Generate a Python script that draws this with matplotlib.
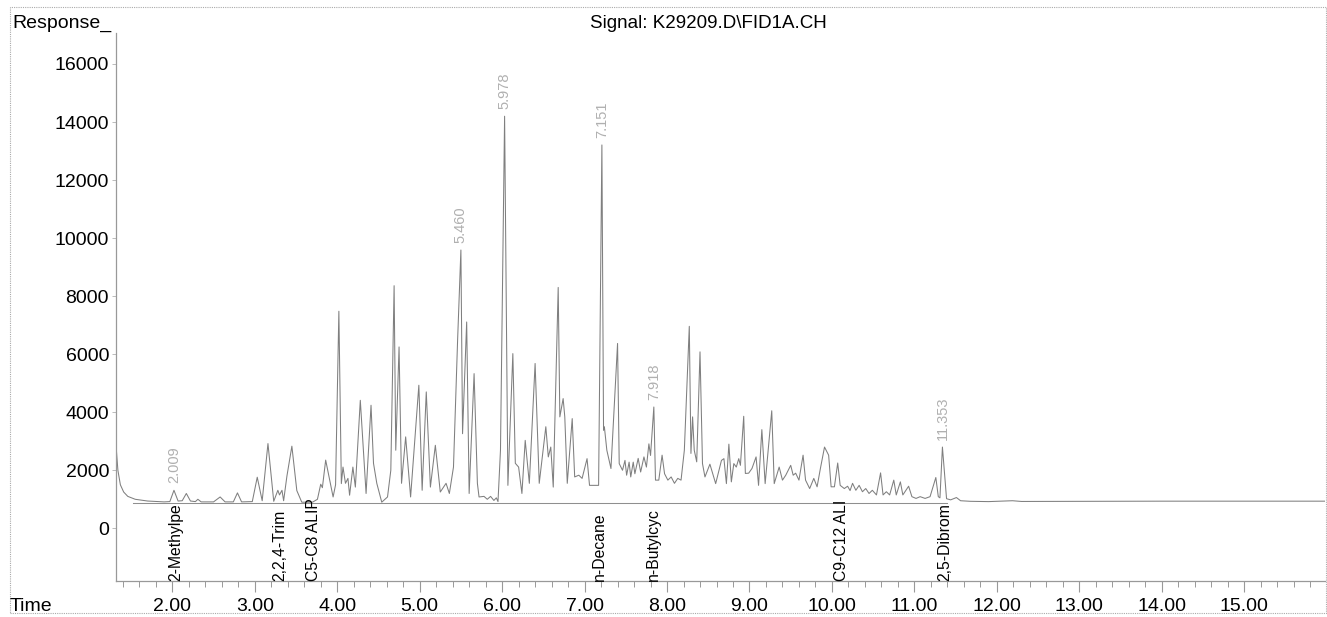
import matplotlib
matplotlib.use("Agg")
import matplotlib.pyplot as plt
from matplotlib.ticker import MultipleLocator, FixedLocator
from matplotlib.patches import Rectangle
import numpy as np

plt.rcParams['font.family'] = ['Liberation Sans', 'DejaVu Sans']

# ---- data (time in min, response) ----
times = [1.32, 1.34, 1.37, 1.41, 1.46, 1.55, 1.70, 1.90, 1.97, 2.02, 2.07, 2.12, 2.17, 2.22, 2.28, 2.31,
         2.35, 2.50, 2.58, 2.64, 2.74, 2.79, 2.84, 2.97, 3.03, 3.09, 3.16, 3.23, 3.28, 3.30, 3.33, 3.35,
         3.39, 3.45, 3.51, 3.57, 3.70, 3.76, 3.80, 3.82, 3.86, 3.95, 3.98, 4.02, 4.05, 4.07, 4.10, 4.13,
         4.15, 4.19, 4.22, 4.28, 4.31, 4.35, 4.41, 4.44, 4.48, 4.54, 4.61, 4.65, 4.69, 4.71, 4.75, 4.78,
         4.83, 4.89, 4.99, 5.03, 5.08, 5.13, 5.19, 5.25, 5.32, 5.36, 5.41, 5.46, 5.50, 5.52, 5.57, 5.60,
         5.66, 5.70, 5.72, 5.78, 5.82, 5.86, 5.90, 5.93, 5.95, 5.98, 6.03, 6.07, 6.13, 6.16, 6.20, 6.24,
         6.28, 6.33, 6.40, 6.45, 6.53, 6.56, 6.59, 6.62, 6.68, 6.70, 6.74, 6.76, 6.79, 6.85, 6.88, 6.93,
         6.97, 7.03, 7.06, 7.17, 7.21, 7.23, 7.24, 7.27, 7.32, 7.40, 7.42, 7.46, 7.49, 7.51, 7.54, 7.56,
         7.59, 7.61, 7.65, 7.68, 7.72, 7.75, 7.78, 7.80, 7.84, 7.86, 7.90, 7.94, 7.97, 8.01, 8.05, 8.09,
         8.13, 8.17, 8.21, 8.27, 8.29, 8.31, 8.33, 8.36, 8.40, 8.43, 8.46, 8.52, 8.59, 8.66, 8.69, 8.72,
         8.75, 8.78, 8.81, 8.84, 8.87, 8.89, 8.93, 8.95, 8.99, 9.03, 9.08, 9.11, 9.15, 9.19, 9.27, 9.30,
         9.36, 9.40, 9.44, 9.50, 9.53, 9.56, 9.60, 9.65, 9.68, 9.73, 9.78, 9.82, 9.86, 9.91, 9.96, 9.99,
         10.03, 10.07, 10.10, 10.15, 10.19, 10.22, 10.25, 10.29, 10.33, 10.37, 10.41, 10.45, 10.49, 10.54,
         10.59, 10.62, 10.66, 10.70, 10.75, 10.78, 10.83, 10.86, 10.93, 10.97, 11.02, 11.07, 11.13, 11.19,
         11.26, 11.29, 11.31, 11.34, 11.39, 11.44, 11.51, 11.56, 11.68, 11.90, 12.19, 12.30, 13.00, 14.00,
         15.00, 15.98]
response = [2750, 2000, 1500, 1250, 1100, 1000, 940, 910, 920, 1310, 940, 950, 1200, 940, 920, 1000,
            910, 910, 1080, 910, 910, 1220, 910, 920, 1760, 950, 2920, 930, 1310, 1150, 1310, 950,
            1800, 2830, 1300, 900, 900, 1000, 1520, 1400, 2350, 1080, 1500, 7480, 1540, 2110, 1550, 1720,
            1140, 2110, 1420, 4410, 3030, 1200, 4240, 2240, 1550, 900, 1080, 2000, 8360, 2690, 6250, 1550,
            3150, 1080, 4930, 1310, 4700, 1420, 2860, 1250, 1550, 1200, 2110, 6480, 9590, 3260, 7110, 1200,
            5330, 1550, 1080, 1100, 1000, 1100, 960, 1050, 920, 2690, 14200, 1480, 6020, 2240, 2110, 1200,
            3030, 1550, 5680, 1550, 3500, 2460, 2800, 1420, 8300, 3840, 4470, 3840, 1550, 3780, 1770, 1830,
            1720, 2400, 1480, 1480, 13210, 3380, 3500, 2690, 2060, 6370, 2230, 2000, 2340, 1830, 2280, 1770,
            2280, 1880, 2410, 1940, 2460, 2110, 2910, 2510, 4180, 1660, 1660, 2520, 1880, 1660, 1770, 1550,
            1720, 1660, 2690, 6960, 2580, 3840, 2690, 2290, 6080, 2230, 1770, 2210, 1540, 2340, 2400, 1540,
            2900, 1600, 2230, 2110, 2400, 2170, 3860, 1890, 1900, 2060, 2460, 1480, 3400, 1540, 4050, 1540,
            2110, 1660, 1830, 2170, 1830, 1900, 1660, 2520, 1660, 1370, 1720, 1430, 2060, 2800, 2520, 1430,
            1430, 2250, 1480, 1370, 1450, 1300, 1550, 1310, 1480, 1260, 1370, 1200, 1310, 1150,
            1910, 1150, 1260, 1150, 1660, 1150, 1600, 1150, 1450, 1090, 1030, 1090, 1030, 1090,
            1750, 1090, 1050, 2800, 1020, 980, 1060, 950, 930, 920, 950, 925, 930, 935,
            935, 935]

baseline_times = [1.52, 11.40]
baseline_level = [885, 885]

peak_label_text = ["2.009", "5.460", "5.978", "7.151", "7.918", "11.353"]
peak_label_times = [2.02, 5.50, 6.03, 7.21, 7.84, 11.34]

compound_names = ["2-Methylpe", "2,2,4-Trim", "C5-C8 ALIP", "n-Decane", "n-Butylcyc", "C9-C12 ALI", "2,5-Dibrom"]
compound_times = [2.04, 3.30, 3.715, 7.18, 7.84, 10.115, 11.37]

y_ticks = [0, 2000, 4000, 6000, 8000, 10000, 12000, 14000, 16000]
x_ticks = [2, 3, 4, 5, 6, 7, 8, 9, 10, 11, 12, 13, 14, 15]

# ---- figure ----
W, H = 1327, 617
fig = plt.figure(figsize=(W / 100, H / 100), dpi=100)
ax = fig.add_axes([116 / W, 1 - 581 / H, (1325 - 116) / W, (581 - 33) / H])

trace_col = '#7f7f7f'
ax.plot(times, response, color=trace_col, lw=0.75)
ax.plot(baseline_times, baseline_level, color='#8f8f8f', lw=0.75)

ax.set_xlim(1.317, 15.98)
ax.set_ylim(-1816, 17068)

for s in ['top', 'right']:
    ax.spines[s].set_visible(False)
for s in ['left', 'bottom']:
    ax.spines[s].set_color('#999999')
    ax.spines[s].set_linewidth(0.9)

ax.xaxis.set_major_locator(FixedLocator(x_ticks))
ax.xaxis.set_minor_locator(MultipleLocator(0.2))
ax.set_xticklabels(["%.2f" % v for v in x_ticks])
ax.yaxis.set_major_locator(FixedLocator(y_ticks))
ax.set_yticklabels([str(v) for v in y_ticks])

ax.tick_params(axis='x', which='major', direction='out', length=8, width=0.8, color='#999999',
               labelsize=14, pad=4)
ax.tick_params(axis='x', which='minor', direction='out', length=4, width=0.7, color='#999999')
ax.tick_params(axis='y', which='major', direction='out', length=3, width=0.7, color='#bbbbbb',
               labelsize=14, pad=2)

# peak retention-time labels (gray, vertical)
for txt, t in zip(peak_label_text, peak_label_times):
    yv = np.interp(t, times, response)
    ax.annotate(txt, xy=(t, yv), xytext=(0, 5), textcoords='offset points',
                rotation=90, ha='center', va='bottom', fontsize=10.5, color='#b0b0b0')

# compound names (black, vertical, from the bottom axis)
for name, t in zip(compound_names, compound_times):
    ax.text(t, -1816, name, rotation=90, ha='center', va='bottom', fontsize=11.3, color='black')

# texts on the figure
fig.text(12 / W, 1 - 28 / H, "Response_", fontsize=14, ha='left', va='baseline')
fig.text(590 / W, 1 - 28 / H, "Signal: K29209.D\\FID1A.CH", fontsize=13.5, ha='left', va='baseline')
fig.text(10 / W, 1 - 611 / H, "Time", fontsize=14, ha='left', va='baseline')

# outer frame
fig.patches.append(Rectangle((10 / W, 1 - 613 / H), (1326 - 10) / W, (613 - 7) / H,
                             transform=fig.transFigure, fill=False, edgecolor='#aaaaaa',
                             lw=0.8, linestyle=(0, (1, 1))))

fig.savefig("out.png", dpi=100)
